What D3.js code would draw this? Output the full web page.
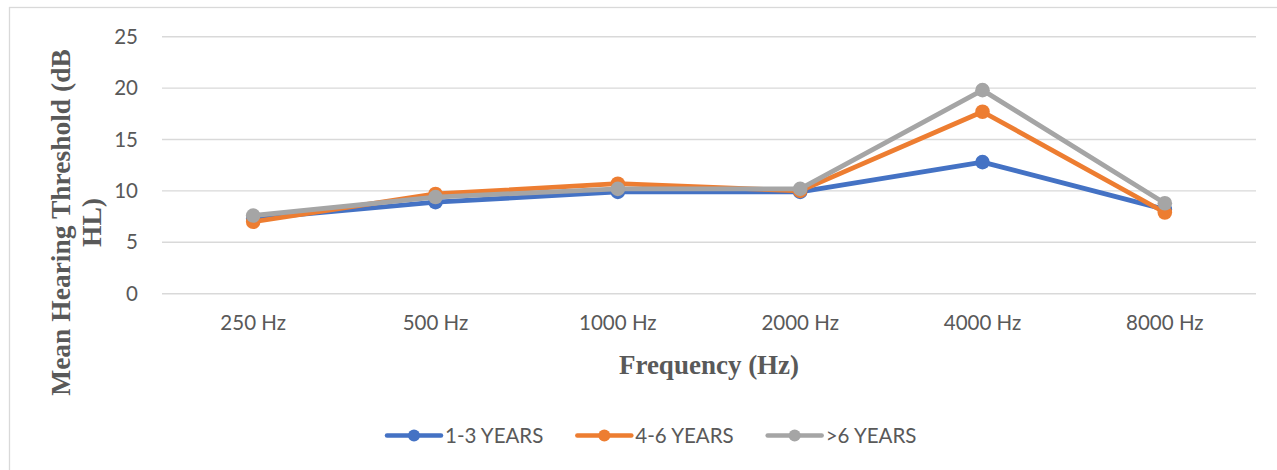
<!DOCTYPE html>
<html>
<head>
<meta charset="utf-8">
<script src="https://cdn.jsdelivr.net/npm/d3@7"></script>
<style>
  body { margin: 0; background: #fff; }
</style>
</head>
<body>
<svg id="drawing_region"></svg>
<script>
const frequencies = ["250 Hz", "500 Hz", "1000 Hz", "2000 Hz", "4000 Hz", "8000 Hz"];
const seriesNames = ["1-3 YEARS", "4-6 YEARS", ">6 YEARS"];
const years1to3 = [7.3, 8.9, 9.9, 9.9, 12.8, 8.2];
const years4to6 = [7.0, 9.7, 10.7, 10.0, 17.7, 7.9];
const yearsOver6 = [7.6, 9.4, 10.2, 10.2, 19.8, 8.8];
const yTicks = [0, 5, 10, 15, 20, 25];

const colors = ["#4472C4", "#ED7D31", "#A5A5A5"];
const allSeries = [years1to3, years4to6, yearsOver6];

const config = {
    width: 1277,
    height: 470,
    margin: {top: 36.7, right: 21, bottom: 176.3, left: 162}
};

const svg = d3.select('#drawing_region')
    .attr('width', config.width)
    .attr('height', config.height);

// outer chart frame (runs off right and bottom edge)
svg.append('rect')
    .attr('x', 9.5).attr('y', 7.5)
    .attr('width', config.width + 20).attr('height', config.height + 20)
    .attr('fill', 'none')
    .attr('stroke', '#D9D9D9')
    .attr('stroke-width', 1.3);

const innerW = config.width - config.margin.left - config.margin.right;
const innerH = config.height - config.margin.top - config.margin.bottom;

const g = svg.append('g')
    .attr('transform', `translate(${config.margin.left}, ${config.margin.top})`);

const x = d3.scaleBand()
    .domain(frequencies)
    .range([0, innerW]);

const y = d3.scaleLinear()
    .domain([0, 25])
    .range([innerH, 0]);

// gridlines
g.append('g')
    .selectAll('line')
    .data(yTicks)
    .join('line')
    .attr('x1', 0).attr('x2', innerW)
    .attr('y1', d => y(d)).attr('y2', d => y(d))
    .attr('stroke', '#D9D9D9')
    .attr('stroke-width', 1.4);

// y axis labels
const yAxis = g.append('g')
    .attr('transform', 'translate(-24,0)')
    .call(d3.axisLeft(y).tickValues(yTicks).tickSize(0).tickPadding(0));
yAxis.select('.domain').remove();
yAxis.selectAll('text')
    .attr('fill', '#595959')
    .style('font-family', 'Lato, sans-serif')
    .style('font-size', '20.5px');

// x axis labels
const xAxis = g.append('g')
    .attr('transform', `translate(0, ${innerH})`)
    .call(d3.axisBottom(x).tickSize(0).tickPadding(22));
xAxis.select('.domain').remove();
xAxis.selectAll('text')
    .attr('fill', '#595959')
    .style('font-family', 'Lato, sans-serif')
    .style('font-size', '20.5px');

// lines + markers
const line = d3.line()
    .x((d, i) => x(frequencies[i]) + x.bandwidth() / 2)
    .y(d => y(d));

allSeries.forEach((values, s) => {
    g.append('path')
        .datum(values)
        .attr('d', line)
        .attr('fill', 'none')
        .attr('stroke', colors[s])
        .attr('stroke-width', 4.8)
        .attr('stroke-linejoin', 'round')
        .attr('stroke-linecap', 'round');

    g.append('g')
        .selectAll('circle')
        .data(values)
        .join('circle')
        .attr('cx', (d, i) => x(frequencies[i]) + x.bandwidth() / 2)
        .attr('cy', d => y(d))
        .attr('r', 7.3)
        .attr('fill', colors[s]);
});

// axis titles
svg.append('text')
    .attr('x', config.margin.left + innerW / 2)
    .attr('y', 374)
    .attr('text-anchor', 'middle')
    .attr('fill', '#595959')
    .style('font-family', '"Liberation Serif", "Times New Roman", serif')
    .style('font-weight', 'bold')
    .style('font-size', '27px')
    .text('Frequency (Hz)');

const yTitle = svg.append('text')
    .attr('transform', 'translate(70, 222.5) rotate(-90)')
    .attr('text-anchor', 'middle')
    .attr('fill', '#595959')
    .style('font-family', '"Liberation Serif", "Times New Roman", serif')
    .style('font-weight', 'bold')
    .style('font-size', '27.5px');
yTitle.append('tspan').attr('x', 0).attr('dy', 0).text('Mean Hearing Threshold (dB');
yTitle.append('tspan').attr('x', 0).attr('dy', 31).text('HL)');

// legend
const legend = svg.append('g');
let lx = 0;
seriesNames.forEach((name, s) => {
    const item = legend.append('g').attr('transform', `translate(${lx}, 0)`);
    item.append('line')
        .attr('x1', 0).attr('x2', 54)
        .attr('y1', 0).attr('y2', 0)
        .attr('stroke', colors[s])
        .attr('stroke-width', 4.5)
        .attr('stroke-linecap', 'round');
    item.append('circle')
        .attr('cx', 27).attr('cy', 0).attr('r', 6)
        .attr('fill', colors[s]);
    const t = item.append('text')
        .attr('x', 58)
        .attr('y', 7.5)
        .attr('fill', '#595959')
        .style('font-family', 'Lato, sans-serif')
        .style('font-size', '20.5px')
        .text(name);
    lx += 58 + t.node().getComputedTextLength() + 34;
});
legend.attr('transform', `translate(387, 435.5)`);
</script>
</body>
</html>
